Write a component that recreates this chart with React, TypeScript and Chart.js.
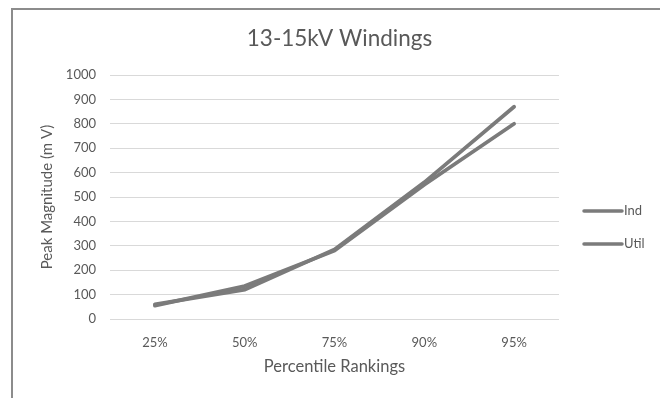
import React, { useEffect, useRef } from "react";
import { Chart, registerables } from "chart.js";

Chart.register(...registerables);

const categories = ["25%", "50%", "75%", "90%", "95%"];
const indValues = [60, 120, 285, 560, 870];
const utilValues = [55, 135, 280, 550, 800];
const yTicks = [0, 100, 200, 300, 400, 500, 600, 700, 800, 900, 1000];

const FONT = "Lato, 'Open Sans', sans-serif";
const TEXT = "#595959";
const LINE = "#7b7b7b";

// Legend drawn to the right of the plot: a short thick line followed by the series name
const sideLegend = {
  id: "sideLegend",
  afterDraw(chart: any) {
    const { ctx } = chart;
    const x0 = chart.chartArea.right + 25;
    const rows = [201, 234];
    ctx.save();
    chart.data.datasets.forEach((ds: any, i: number) => {
      const y = rows[i];
      ctx.strokeStyle = ds.borderColor;
      ctx.lineWidth = 3.5;
      ctx.lineCap = "round";
      ctx.beginPath();
      ctx.moveTo(x0, y);
      ctx.lineTo(x0 + 38, y);
      ctx.stroke();
      ctx.fillStyle = TEXT;
      ctx.font = `13px ${FONT}`;
      ctx.textBaseline = "middle";
      ctx.textAlign = "left";
      ctx.fillText(ds.label, x0 + 40, y);
    });
    ctx.restore();
  },
};

export default function App() {
  const canvasRef = useRef<HTMLCanvasElement | null>(null);

  useEffect(() => {
    if (!canvasRef.current) return;
    const chart = new Chart(canvasRef.current, {
      type: "line",
      data: {
        labels: categories,
        datasets: [
          {
            label: "Ind",
            data: indValues,
            borderColor: LINE,
            backgroundColor: LINE,
            borderWidth: 3.8,
            pointRadius: 0,
            tension: 0,
            borderCapStyle: "round",
          },
          {
            label: "Util",
            data: utilValues,
            borderColor: LINE,
            backgroundColor: LINE,
            borderWidth: 3.8,
            pointRadius: 0,
            tension: 0,
            borderCapStyle: "round",
          },
        ],
      },
      options: {
        responsive: false,
        animation: false,
        layout: { padding: 0 },
        plugins: {
          legend: { display: false },
          tooltip: { enabled: false },
          title: {
            display: true,
            text: "13-15kV Windings",
            color: TEXT,
            font: { family: FONT, size: 22.5, weight: "normal" },
            padding: { top: 15, bottom: 23 },
          },
        },
        scales: {
          x: {
            offset: true,
            grid: { display: false, drawTicks: false },
            border: { display: false },
            ticks: {
              color: TEXT,
              font: { family: FONT, size: 13 },
              padding: 16,
              maxRotation: 0,
            },
            title: {
              display: true,
              text: "Percentile Rankings",
              color: TEXT,
              font: { family: FONT, size: 16.5 },
              padding: { top: 0, bottom: 29 },
            },
            afterFit(scale: any) {
              scale.height = 87;
            },
          },
          y: {
            min: 0,
            max: 1000,
            afterBuildTicks(scale: any) {
              scale.ticks = yTicks.map((v) => ({ value: v }));
            },
            grid: { color: "#d9d9d9", lineWidth: 1, drawTicks: false },
            border: { display: false },
            ticks: {
              color: TEXT,
              font: { family: FONT, size: 13 },
              padding: 14,
              callback: (v: any) => String(v),
            },
            title: {
              display: true,
              text: "Peak Magnitude (m V)",
              color: TEXT,
              font: { family: FONT, size: 15 },
              padding: { top: 25, bottom: 0 },
            },
            afterFit(scale: any) {
              scale.width = 97;
            },
          },
          // empty right-hand band that leaves room for the legend
          legendSpace: {
            type: "linear",
            position: "right",
            grid: { display: false, drawTicks: false },
            border: { display: false },
            ticks: { display: false },
            afterFit(scale: any) {
              scale.width = 107;
            },
          },
        },
      },
      plugins: [sideLegend],
    });
    return () => chart.destroy();
  }, []);

  return (
    <div
      style={{
        marginLeft: 3,
        width: 653,
        height: 400,
        border: "2px solid #8c8c8c",
        background: "#fff",
        overflow: "hidden",
      }}
    >
      <canvas ref={canvasRef} width={653} height={396} style={{ display: "block" }} />
    </div>
  );
}
